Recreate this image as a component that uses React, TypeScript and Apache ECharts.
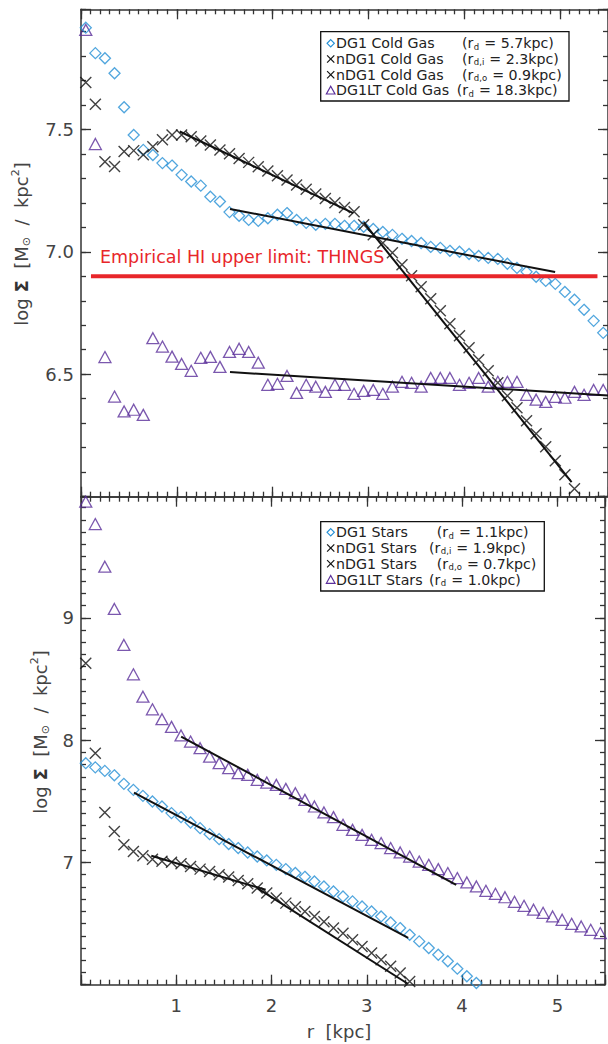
import React, { useEffect, useRef } from 'react';
import * as echarts from 'echarts';

// ---------- data ----------
const RADII = [
  0.05, 0.15, 0.25, 0.35, 0.45, 0.55, 0.65, 0.75, 0.85, 0.95,
  1.05, 1.15, 1.25, 1.35, 1.45, 1.55, 1.65, 1.75, 1.85, 1.95,
  2.05, 2.15, 2.25, 2.35, 2.45, 2.55, 2.65, 2.75, 2.85, 2.95,
  3.05, 3.15, 3.25, 3.35, 3.45, 3.55, 3.65, 3.75, 3.85, 3.95,
  4.05, 4.15, 4.25, 4.35, 4.45, 4.55, 4.65, 4.75, 4.85, 4.95,
  5.05, 5.15, 5.25, 5.35, 5.45,
];

// Cold gas (top panel), log Sigma
const GAS_DG1 = [
  7.915, 7.811, 7.790, 7.729, 7.590, 7.477, 7.416, 7.395, 7.362, 7.352,
  7.314, 7.287, 7.270, 7.225, 7.205, 7.162, 7.147, 7.130, 7.126, 7.137,
  7.151, 7.158, 7.130, 7.118, 7.110, 7.114, 7.114, 7.106, 7.106, 7.102,
  7.093, 7.081, 7.069, 7.053, 7.044, 7.036, 7.020, 7.016, 7.004, 7.000,
  6.991, 6.983, 6.975, 6.971, 6.951, 6.934, 6.918, 6.898, 6.881, 6.869,
  6.836, 6.804, 6.763, 6.718, 6.669,
];
const GAS_NDG1 = [
  7.691, 7.602, 7.368, 7.348, 7.409, 7.413, 7.396, 7.429, 7.457, 7.477,
  7.477, 7.470, 7.452, 7.436, 7.416, 7.400, 7.381, 7.365, 7.347, 7.330,
  7.310, 7.293, 7.273, 7.255, 7.236, 7.218, 7.200, 7.181, 7.163, 7.110,
  7.070, 7.036, 6.996, 6.947, 6.902, 6.857, 6.808, 6.759, 6.706, 6.657,
  6.608, 6.559, 6.514, 6.465, 6.412, 6.363, 6.310, 6.257, 6.204, 6.147,
  6.090, 6.032,
];
const GAS_DG1LT = [
  7.906, 7.440, 6.570, 6.409, 6.348, 6.355, 6.334, 6.647, 6.613, 6.572,
  6.542, 6.514, 6.567, 6.571, 6.530, 6.591, 6.604, 6.591, 6.547, 6.457,
  6.461, 6.493, 6.424, 6.457, 6.449, 6.428, 6.457, 6.457, 6.420, 6.432,
  6.436, 6.420, 6.449, 6.469, 6.465, 6.449, 6.485, 6.485, 6.485, 6.457,
  6.465, 6.485, 6.449, 6.469, 6.469, 6.469, 6.416, 6.396, 6.387, 6.408,
  6.404, 6.428, 6.416, 6.436, 6.436,
];

// Stars (bottom panel), log Sigma
const STARS_DG1 = [
  7.811, 7.777, 7.748, 7.712, 7.642, 7.593, 7.544, 7.498, 7.457, 7.403,
  7.370, 7.326, 7.280, 7.231, 7.190, 7.150, 7.117, 7.081, 7.048, 7.016,
  6.980, 6.945, 6.913, 6.882, 6.844, 6.803, 6.762, 6.721, 6.681, 6.640,
  6.599, 6.558, 6.509, 6.463, 6.408, 6.354, 6.300, 6.245, 6.192, 6.131,
  6.069, 6.014,
];
const STARS_NDG1 = [
  8.628, 7.893, 7.408, 7.252, 7.144, 7.089, 7.054, 7.025, 7.009, 7.001,
  6.989, 6.967, 6.945, 6.926, 6.899, 6.880, 6.852, 6.825, 6.790, 6.749,
  6.708, 6.667, 6.637, 6.599, 6.558, 6.515, 6.463, 6.421, 6.368, 6.313,
  6.259, 6.204, 6.150, 6.096, 6.027,
];
const STARS_DG1LT = [
  9.949, 9.766, 9.418, 9.072, 8.778, 8.538, 8.355, 8.252, 8.171, 8.108,
  8.038, 7.988, 7.934, 7.865, 7.811, 7.770, 7.730, 7.716, 7.675, 7.653,
  7.634, 7.601, 7.566, 7.511, 7.457, 7.408, 7.370, 7.307, 7.266, 7.225,
  7.185, 7.158, 7.117, 7.081, 7.048, 7.007, 6.980, 6.945, 6.913, 6.872,
  6.836, 6.803, 6.768, 6.743, 6.715, 6.678, 6.645, 6.613, 6.588, 6.558,
  6.531, 6.498, 6.476, 6.449, 6.422,
];

// Exponential-disc fits: [r, logSigma] end points
const FIT_GAS_DG1 = [[1.555, 7.175], [4.948, 6.917]];
const FIT_GAS_NDG1_IN = [[1.03, 7.491], [2.842, 7.158]];
const FIT_GAS_NDG1_OUT = [[2.95, 7.12], [5.12, 6.06]];
const FIT_GAS_DG1LT = [[1.555, 6.509], [5.5, 6.413]];
const HI_LIMIT = [[0.104, 6.9], [5.39, 6.9]];

const FIT_STARS_DG1 = [[0.556, 7.571], [3.434, 6.382]];
const FIT_STARS_NDG1_IN = [[0.738, 7.054], [1.938, 6.776]];
const FIT_STARS_NDG1_OUT = [[1.85, 6.79], [3.43, 6.008]];
const FIT_STARS_DG1LT = [[1.051, 8.029], [3.938, 6.817]];

const X_TICK_LABELS = [1, 2, 3, 4, 5];
const Y_TICK_LABELS_GAS = [6.5, 7.0, 7.5];
const Y_TICK_LABELS_STARS = [7, 8, 9];

const GAS_LEGEND = [
  { name: 'DG1 Cold Gas', sub: 'd', rest: ' = 5.7kpc)', sym: 'diamond' },
  { name: 'nDG1 Cold Gas', sub: 'd,i', rest: ' = 2.3kpc)', sym: 'x' },
  { name: 'nDG1 Cold Gas', sub: 'd,o', rest: ' = 0.9kpc)', sym: 'x' },
  { name: 'DG1LT Cold Gas', sub: 'd', rest: ' = 18.3kpc)', sym: 'triangle' },
];
const STARS_LEGEND = [
  { name: 'DG1 Stars', sub: 'd', rest: ' = 1.1kpc)', sym: 'diamond' },
  { name: 'nDG1 Stars', sub: 'd,i', rest: ' = 1.9kpc)', sym: 'x' },
  { name: 'nDG1 Stars', sub: 'd,o', rest: ' = 0.7kpc)', sym: 'x' },
  { name: 'DG1LT Stars', sub: 'd', rest: ' = 1.0kpc)', sym: 'triangle' },
];

// ---------- styling ----------
const FONT = '"DejaVu Sans", sans-serif';
const BLUE = '#2590d6';
const PURPLE = '#5a2e9a';
const BLACK = '#111111';
const RED = '#e8262a';
const AXIS = '#333333';
const TEXT = '#444444';
const LEG_FS = 14.2;
const SUB_FS = 8.5;
const X_SYMBOL = 'path://M0,0L10,10M10,0L0,10';

const near = (v: number, list: number[]) => list.some((t) => Math.abs(t - v) < 1e-6);
const pts = (vals: number[]) => vals.map((v, i) => [RADII[i], v]);

let measureCtx: CanvasRenderingContext2D | null = null;
function textWidth(text: string, size: number) {
  if (!measureCtx) measureCtx = document.createElement('canvas').getContext('2d');
  if (!measureCtx) return text.length * size * 0.6;
  measureCtx.font = size + 'px ' + FONT;
  return measureCtx.measureText(text).width;
}

function makeAxes(g: number, yMin: number, yMax: number, yMajor: number, yLabels: number[], yDigits: number, showX: boolean) {
  const tickStyle = { color: AXIS, width: 1.3 };
  const xBase = { gridIndex: g, type: 'value', min: 0, max: 5.5, splitLine: { show: false } };
  const yBase = { gridIndex: g, type: 'value', min: yMin, max: yMax, splitLine: { show: false } };
  const xAxis = [
    {
      ...xBase, position: 'bottom', interval: 1,
      axisLine: { show: true, onZero: false, lineStyle: { color: AXIS, width: 1.5 } },
      axisTick: { show: true, inside: true, length: 10, lineStyle: tickStyle },
      axisLabel: {
        show: showX, margin: 12, fontSize: 18, color: TEXT, fontFamily: FONT,
        showMinLabel: true, showMaxLabel: true,
        formatter: (v: number) => (near(v, X_TICK_LABELS) ? String(Math.round(v)) : ''),
      },
    },
    {
      ...xBase, position: 'bottom', interval: 0.1,
      axisLine: { show: false, onZero: false },
      axisTick: { show: true, inside: true, length: 5, lineStyle: tickStyle },
      axisLabel: { show: false },
    },
    {
      ...xBase, position: 'top', interval: 1,
      axisLine: { show: true, onZero: false, lineStyle: { color: AXIS, width: 1.5 } },
      axisTick: { show: true, inside: true, length: 10, lineStyle: tickStyle },
      axisLabel: { show: false },
    },
    {
      ...xBase, position: 'top', interval: 0.1,
      axisLine: { show: false, onZero: false },
      axisTick: { show: true, inside: true, length: 5, lineStyle: tickStyle },
      axisLabel: { show: false },
    },
  ];
  const yAxis = [
    {
      ...yBase, position: 'left', interval: yMajor,
      axisLine: { show: true, onZero: false, lineStyle: { color: AXIS, width: 1.5 } },
      axisTick: { show: true, inside: true, length: 10, lineStyle: tickStyle },
      axisLabel: {
        show: true, margin: 7, fontSize: 18, color: TEXT, fontFamily: FONT,
        formatter: (v: number) => (near(v, yLabels) ? v.toFixed(yDigits) : ''),
      },
    },
    {
      ...yBase, position: 'left', interval: 0.1,
      axisLine: { show: false, onZero: false },
      axisTick: { show: true, inside: true, length: 5, lineStyle: tickStyle },
      axisLabel: { show: false },
    },
    {
      ...yBase, position: 'right', interval: yMajor,
      axisLine: { show: true, onZero: false, lineStyle: { color: AXIS, width: 1.5 } },
      axisTick: { show: true, inside: true, length: 10, lineStyle: tickStyle },
      axisLabel: { show: false },
    },
    {
      ...yBase, position: 'right', interval: 0.1,
      axisLine: { show: false, onZero: false },
      axisTick: { show: true, inside: true, length: 5, lineStyle: tickStyle },
      axisLabel: { show: false },
    },
  ];
  return { xAxis, yAxis };
}

function scatter(g: number, data: number[][], kind: string) {
  const base: any = {
    type: 'scatter',
    xAxisIndex: g * 4,
    yAxisIndex: g * 4,
    data,
    silent: true,
    z: 3,
  };
  if (kind === 'diamond') {
    return { ...base, symbol: 'diamond', symbolSize: [11, 11], itemStyle: { color: 'rgba(0,0,0,0)', borderColor: BLUE, borderWidth: 1.3 } };
  }
  if (kind === 'triangle') {
    return { ...base, symbol: 'triangle', symbolSize: [12, 11], itemStyle: { color: 'rgba(0,0,0,0)', borderColor: PURPLE, borderWidth: 1.3 } };
  }
  return { ...base, symbol: X_SYMBOL, symbolSize: [11, 11], itemStyle: { color: 'rgba(0,0,0,0)', borderColor: BLACK, borderWidth: 1.4 } };
}

function fitLine(g: number, data: number[][], color = BLACK, width = 2, z = 5) {
  return {
    type: 'line', xAxisIndex: g * 4, yAxisIndex: g * 4, data,
    symbol: 'none', showSymbol: false, silent: true, z,
    lineStyle: { color, width },
  };
}

function legendGraphic(entries: any[], box: { x: number; y: number; w: number; h: number }, rowYs: number[], parenXs: number[]) {
  const children: any[] = [
    { type: 'rect', shape: { x: box.x, y: box.y, width: box.w, height: box.h }, style: { fill: '#ffffff', stroke: BLACK, lineWidth: 1.3 } },
  ];
  const txt = (text: string, x: number, y: number, size: number) => ({
    type: 'text', x, y,
    style: { text, fontSize: size, fontFamily: FONT, fill: '#222', textAlign: 'left', textVerticalAlign: 'middle' },
  });
  entries.forEach((e, i) => {
    const cy = rowYs[i];
    const sx = box.x + 10;
    if (e.sym === 'diamond') {
      children.push({ type: 'polygon', shape: { points: [[sx, cy - 3.6], [sx + 3.6, cy], [sx, cy + 3.6], [sx - 3.6, cy]] }, style: { fill: 'none', stroke: BLUE, lineWidth: 1.2 } });
    } else if (e.sym === 'triangle') {
      children.push({ type: 'polygon', shape: { points: [[sx, cy - 4.2], [sx + 4.3, cy + 3.6], [sx - 4.3, cy + 3.6]] }, style: { fill: 'none', stroke: PURPLE, lineWidth: 1.2 } });
    } else {
      children.push({ type: 'line', shape: { x1: sx - 3.6, y1: cy - 3.6, x2: sx + 3.6, y2: cy + 3.6 }, style: { stroke: BLACK, lineWidth: 1.2 } });
      children.push({ type: 'line', shape: { x1: sx + 3.6, y1: cy - 3.6, x2: sx - 3.6, y2: cy + 3.6 }, style: { stroke: BLACK, lineWidth: 1.2 } });
    }
    children.push(txt(e.name, box.x + 15.3, cy, LEG_FS));
    const x0 = parenXs[i];
    const w1 = textWidth('(r', LEG_FS);
    const w2 = textWidth(e.sub, SUB_FS);
    children.push(txt('(r', x0, cy, LEG_FS));
    children.push(txt(e.sub, x0 + w1 + 0.5, cy + 3.3, SUB_FS));
    children.push(txt(e.rest, x0 + w1 + w2 + 1, cy, LEG_FS));
  });
  return { type: 'group', children };
}

function yTitle(x: number, y: number) {
  return {
    type: 'text', x, y, rotation: Math.PI / 2,
    style: {
      text: 'log {b|Σ}  [M{o|⊙}  /  kpc{p|2}]',
      fontSize: 18, fontFamily: FONT, fill: TEXT, textAlign: 'center', textVerticalAlign: 'middle', lineHeight: 22,
      rich: {
        b: { fontSize: 18, fontFamily: FONT, fill: '#333', fontWeight: 'bold', lineHeight: 22 },
        o: { fontSize: 11, fontFamily: FONT, fill: TEXT, verticalAlign: 'bottom', lineHeight: 12 },
        p: { fontSize: 11, fontFamily: FONT, fill: TEXT, verticalAlign: 'top', lineHeight: 12 },
      },
    },
  };
}

export default function App() {
  const ref = useRef<HTMLDivElement>(null);
  useEffect(() => {
    if (!ref.current) return;
    const chart = echarts.init(ref.current, null, { renderer: 'svg' });
    const top = makeAxes(0, 6.0, 7.99, 0.5, Y_TICK_LABELS_GAS, 1, false);
    const bot = makeAxes(1, 6.0, 9.99, 1, Y_TICK_LABELS_STARS, 0, true);
    const option: any = {
      animation: false,
      backgroundColor: '#ffffff',
      textStyle: { fontFamily: FONT },
      grid: [
        { left: 81, top: 9.3, width: 527, height: 487.4, containLabel: false },
        { left: 81, top: 496.7, width: 527, height: 488, containLabel: false },
      ],
      xAxis: [...top.xAxis, ...bot.xAxis],
      yAxis: [...top.yAxis, ...bot.yAxis],
      series: [
        scatter(0, pts(GAS_DG1LT), 'triangle'),
        scatter(0, pts(GAS_DG1), 'diamond'),
        scatter(0, pts(GAS_NDG1), 'x'),
        fitLine(0, HI_LIMIT, RED, 4, 4),
        fitLine(0, FIT_GAS_DG1),
        fitLine(0, FIT_GAS_NDG1_IN),
        fitLine(0, FIT_GAS_NDG1_OUT),
        fitLine(0, FIT_GAS_DG1LT),
        scatter(1, pts(STARS_DG1LT), 'triangle'),
        scatter(1, pts(STARS_DG1), 'diamond'),
        scatter(1, pts(STARS_NDG1), 'x'),
        fitLine(1, FIT_STARS_DG1LT),
        fitLine(1, FIT_STARS_DG1),
        fitLine(1, FIT_STARS_NDG1_IN),
        fitLine(1, FIT_STARS_NDG1_OUT),
      ],
      graphic: [
        legendGraphic(GAS_LEGEND, { x: 320.7, y: 31.7, w: 248.3, h: 69.3 }, [43.3, 59, 74.7, 90.4], [462, 462, 462, 456.7]),
        legendGraphic(STARS_LEGEND, { x: 320.7, y: 521.7, w: 223.6, h: 69.3 }, [532.3, 548, 563.7, 579.7], [436.7, 429, 436.7, 429]),
        {
          type: 'text', x: 100, y: 257,
          style: { text: 'Empirical HI upper limit: THINGS', fontSize: 17.5, fontFamily: FONT, fill: RED, textAlign: 'left', textVerticalAlign: 'middle' },
        },
        {
          type: 'text', x: 339, y: 1031,
          style: { text: 'r  [kpc]', fontSize: 18, fontFamily: FONT, fill: TEXT, textAlign: 'center', textVerticalAlign: 'middle' },
        },
        yTitle(21, 244),
        yTitle(40, 732),
      ],
    };
    chart.setOption(option);
    return () => chart.dispose();
  }, []);
  return (
    <div
      ref={ref}
      style={{ position: 'absolute', left: 0, top: 0, width: 608, height: 1044, background: '#fff' }}
    />
  );
}
